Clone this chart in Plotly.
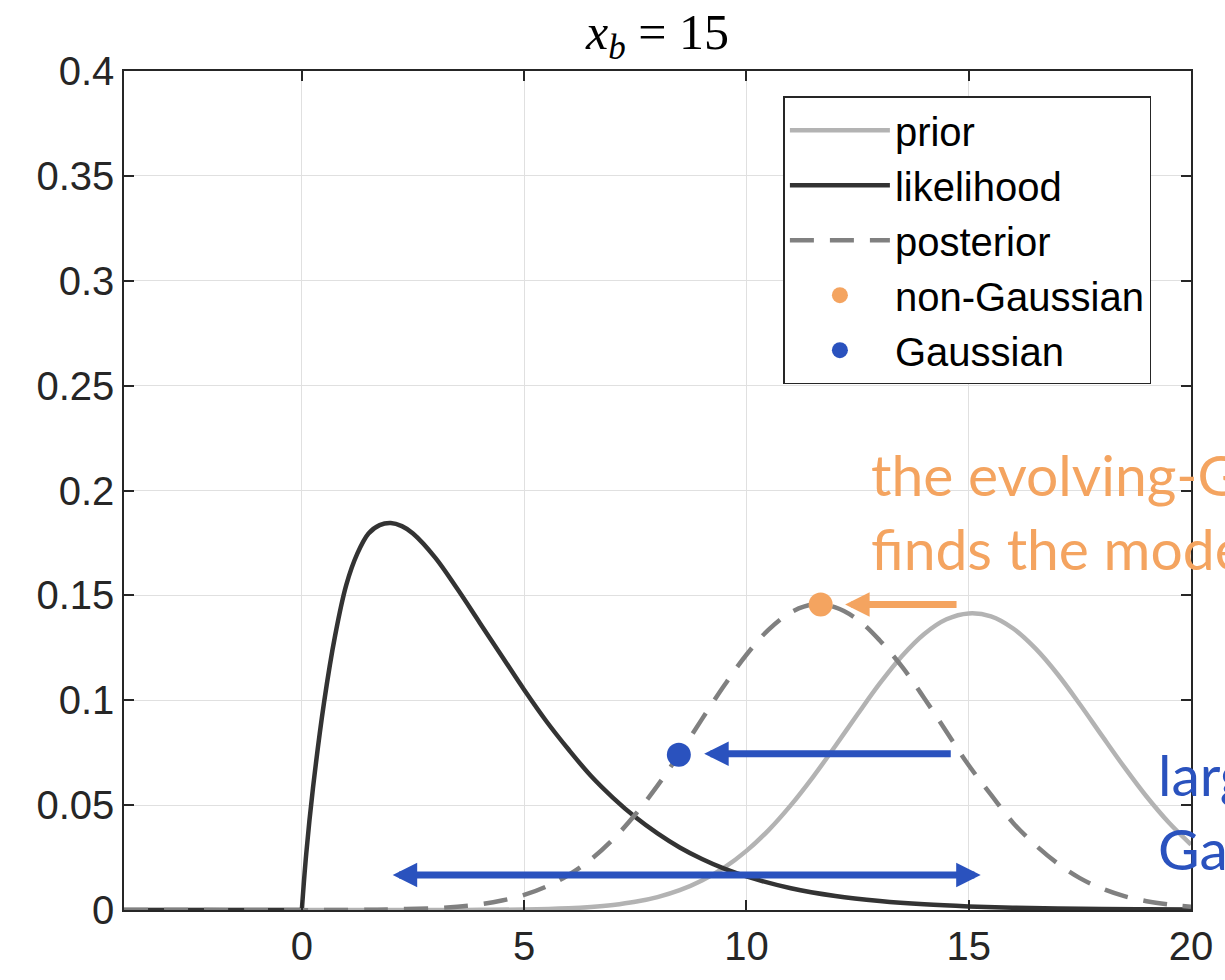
import plotly.graph_objects as go

# ---------------- data ----------------
prior_x = [-4, 3, 4, 5, 6, 6.5, 7, 7.5, 8, 8.5, 9, 9.5, 10, 10.5, 11, 11.5, 12, 12.5,
           13, 13.5, 14, 14.5, 15, 15.5, 16, 16.5, 17, 17.5, 18, 18.5, 19, 19.5, 20]
prior_y = [0, 0, 0.00007, 0.00025, 0.00082, 0.00142, 0.00239, 0.0039, 0.00617, 0.00945,
           0.01405, 0.0202, 0.0282, 0.0381, 0.0500, 0.0635, 0.0782, 0.0933, 0.1080,
           0.1211, 0.1316, 0.1386, 0.1414, 0.1400, 0.1342, 0.1247, 0.1124, 0.0981,
           0.0830, 0.0681, 0.0541, 0.0417, 0.0312]

# likelihood is zero for x < 0, then rises steeply from x = 0
lik_neg_x = [-4, 0]
lik_neg_y = [0, 0]
lik_x = [0, 0.1, 0.25, 0.5, 0.75, 1.0, 1.25, 1.5, 1.75, 2.0, 2.25, 2.5, 3.0, 3.5, 4.0,
         4.5, 5.0, 5.5, 6.0, 6.5, 7.0, 7.5, 8.0, 8.5, 9.0, 9.5, 10, 11, 12, 13, 14, 15,
         16, 17, 18, 19, 20]
lik_y = [0, 0.027, 0.058, 0.099, 0.131, 0.155, 0.170, 0.1795, 0.1835, 0.1845, 0.1830,
         0.1795, 0.168, 0.153, 0.137, 0.121, 0.105, 0.090, 0.0765, 0.064, 0.0535, 0.0443,
         0.0365, 0.0298, 0.0243, 0.0197, 0.0160, 0.0104, 0.0067, 0.0043, 0.0027, 0.0017,
         0.0011, 0.0007, 0.00045, 0.0003, 0.0002]

post_x = [-4, 1, 2, 3, 3.5, 4, 4.5, 5, 5.5, 6, 6.5, 7, 7.5, 8, 8.5, 9, 9.5, 10, 10.5,
          11, 11.5, 12, 12.5, 13, 13.5, 14, 14.5, 15, 15.5, 16, 16.5, 17, 17.5, 18, 18.5,
          19, 19.5, 20]
post_y = [0, 0, 0.0003, 0.0009, 0.0016, 0.0027, 0.0045, 0.0072, 0.0112, 0.0167, 0.0241,
          0.0337, 0.0455, 0.0593, 0.0747, 0.0910, 0.1070, 0.1217, 0.1337, 0.1419, 0.1456,
          0.1443, 0.1385, 0.1285, 0.1160, 0.1010, 0.0850, 0.0690, 0.0550, 0.0415, 0.0310,
          0.0222, 0.0152, 0.0102, 0.0066, 0.0042, 0.0026, 0.0015]

nongauss_x = [11.67]
nongauss_y = [0.1457]
gauss_x = [8.48]
gauss_y = [0.0740]

x_ticks = [0, 5, 10, 15, 20]
x_ticktext = ["0", "5", "10", "15", "20"]
y_ticks = [0, 0.05, 0.1, 0.15, 0.2, 0.25, 0.3, 0.35, 0.4]
y_ticktext = ["0", "0.05", "0.1", "0.15", "0.2", "0.25", "0.3", "0.35", "0.4"]

# arrows: (tip_x, tip_y, tail_x, tail_y)
orange_arrow = (12.22, 0.1457, 14.76, 0.1457)
blue_arrow = (9.05, 0.0745, 14.63, 0.0745)
blue_double = (15.27, 0.0167, 2.01, 0.0167)

ORANGE = "#F4A460"
BLUE = "#2A52BE"

fig = go.Figure()
fig.add_trace(go.Scatter(x=prior_x, y=prior_y, mode="lines", name="prior",
                         line=dict(color="#b3b3b3", width=4.5, shape="spline", smoothing=1)))
fig.add_trace(go.Scatter(x=lik_neg_x, y=lik_neg_y, mode="lines", name="likelihood",
                         showlegend=False, hoverinfo="skip",
                         line=dict(color="#333333", width=4.5)))
fig.add_trace(go.Scatter(x=lik_x, y=lik_y, mode="lines", name="likelihood",
                         line=dict(color="#333333", width=4.5, shape="spline", smoothing=1)))
fig.add_trace(go.Scatter(x=post_x, y=post_y, mode="lines", name="posterior",
                         line=dict(color="#808080", width=4.5, dash="24px,16px",
                                   shape="spline", smoothing=1)))
fig.add_trace(go.Scatter(x=nongauss_x, y=nongauss_y, mode="markers", name="non-Gaussian",
                         marker=dict(color=ORANGE, size=24)))
fig.add_trace(go.Scatter(x=gauss_x, y=gauss_y, mode="markers", name="Gaussian",
                         marker=dict(color=BLUE, size=24)))

def arrow(a, color, width, both=False):
    d = dict(x=a[0], y=a[1], ax=a[2], ay=a[3], xref="x", yref="y", axref="x", ayref="y",
             text="", showarrow=True, arrowhead=2, arrowsize=0.7, arrowwidth=width,
             arrowcolor=color, standoff=0, startstandoff=0)
    if both:
        d.update(arrowside="end+start", startarrowhead=2, startarrowsize=0.7)
    return d

annotations = [
    arrow(orange_arrow, ORANGE, 7),
    arrow(blue_arrow, BLUE, 7),
    arrow(blue_double, BLUE, 7, both=True),
    dict(x=12.76, y=0.190, xref="x", yref="y", xanchor="left", yanchor="middle",
         text="the evolving-Gaussian<br>finds the mode", showarrow=False, align="left",
         font=dict(family="Lato", size=57, color=ORANGE)),
    dict(x=19.21, y=0.0470, xref="x", yref="y", xanchor="left", yanchor="middle",
         text="large<br>Gaussian", showarrow=False, align="left",
         font=dict(family="Lato", size=57, color=BLUE)),
]

axis_common = dict(showline=True, linecolor="#262626", linewidth=1.5, mirror="ticks",
                   ticks="inside", ticklen=10, tickwidth=1.5, tickcolor="#262626",
                   showgrid=True, gridcolor="#e0e0e0", gridwidth=1, zeroline=False,
                   tickfont=dict(family="Liberation Sans", size=40, color="#262626"))

fig.update_layout(
    width=1225, height=980,
    margin=dict(l=124, r=34, t=71, b=67),
    paper_bgcolor="white", plot_bgcolor="white",
    title=dict(text="<i>x</i><sub><i>b</i></sub> = 15", x=0.5, xref="paper",
               y=1 - 31 / 980, yref="container", xanchor="center", yanchor="middle",
               font=dict(family="Liberation Serif", size=50, color="#000000")),
    xaxis=dict(range=[-4, 20], tickvals=x_ticks, ticktext=x_ticktext, **axis_common),
    yaxis=dict(range=[0, 0.4], tickvals=y_ticks, ticktext=y_ticktext, **axis_common),
    legend=dict(x=0.618, y=0.970, xanchor="left", yanchor="top", bgcolor="white",
                bordercolor="#262626", borderwidth=1.5, itemwidth=100,
                font=dict(family="Liberation Sans", size=40, color="#000000")),
    annotations=annotations,
    showlegend=True,
)

fig.write_html("out.html")
